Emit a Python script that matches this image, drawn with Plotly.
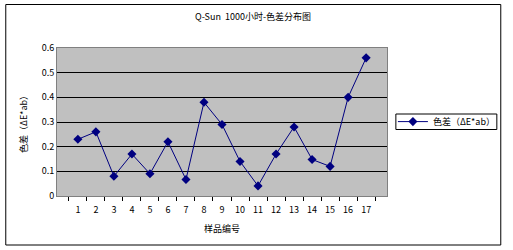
import plotly.graph_objects as go

categories = [str(i) for i in range(1, 18)]
values = [0.23, 0.26, 0.08, 0.17, 0.09, 0.22, 0.067, 0.38, 0.29, 0.14, 0.041, 0.17, 0.28, 0.148, 0.12, 0.40, 0.56]
y_ticks = [0, 0.1, 0.2, 0.3, 0.4, 0.5, 0.6]
y_tick_labels = ["0", "0.1", "0.2", "0.3", "0.4", "0.5", "0.6"]
series_name = "色差（ΔE*ab）"
title = "Q-Sun  1000小时-色差分布图"

font = "Noto Sans CJK SC, SimSun, sans-serif"
navy = "#000080"

fig = go.Figure()
fig.add_trace(go.Scatter(
    x=categories, y=values, name=series_name, mode="lines+markers",
    line=dict(color=navy, width=1),
    marker=dict(symbol="diamond", size=7, color=navy),
))

W, H = 513, 250
l, r, t, b = 57, 121, 48, 54
pw, ph = W - l - r, H - t - b

def px_x(p):
    return (p - l) / pw

def px_y(p):
    return (H - b - p) / ph

fig.update_layout(
    width=W, height=H,
    margin=dict(l=l, r=r, t=t, b=b),
    paper_bgcolor="white",
    plot_bgcolor="#C0C0C0",
    font=dict(family=font, size=9, color="black"),
    title=dict(text=title, x=px_x(256), xref="paper", xanchor="center",
               y=1 - 17 / H, yanchor="middle", font=dict(size=9)),
    showlegend=True,
    legend=dict(x=px_x(398), xanchor="left", y=px_y(121.6), yanchor="middle",
                borderwidth=0, bgcolor="rgba(0,0,0,0)",
                font=dict(size=9), itemwidth=30,
                tracegroupgap=0),
    xaxis=dict(type="category", tickson="boundaries", ticks="outside", ticklen=4,
               tickcolor="black", tickangle=0, showgrid=False, showline=True,
               linecolor="#808080", mirror=True, ticklabelstandoff=5,
               title=dict(text="样品编号", standoff=10, font=dict(size=9)),
               tickfont=dict(size=9)),
    yaxis=dict(range=[0, 0.6], tickvals=y_ticks, ticktext=y_tick_labels,
               showgrid=True, gridcolor="black", gridwidth=1, showline=True,
               linecolor="#808080", mirror=True, zeroline=False, ticks="",
               title=dict(text=series_name, standoff=12, font=dict(size=9)),
               tickfont=dict(size=9)),
)

fig.add_shape(type="rect", xref="paper", yref="paper",
              x0=px_x(401), x1=px_x(503.5), y0=px_y(129.5), y1=px_y(114),
              line=dict(color="black", width=1), fillcolor="rgba(0,0,0,0)", layer="above")

fig.add_shape(type="rect", xref="paper", yref="paper",
              x0=px_x(5), x1=px_x(507.5), y0=px_y(245), y1=px_y(4.5),
              line=dict(color="black", width=1), fillcolor="rgba(0,0,0,0)", layer="below")

fig.write_html("out.html")
